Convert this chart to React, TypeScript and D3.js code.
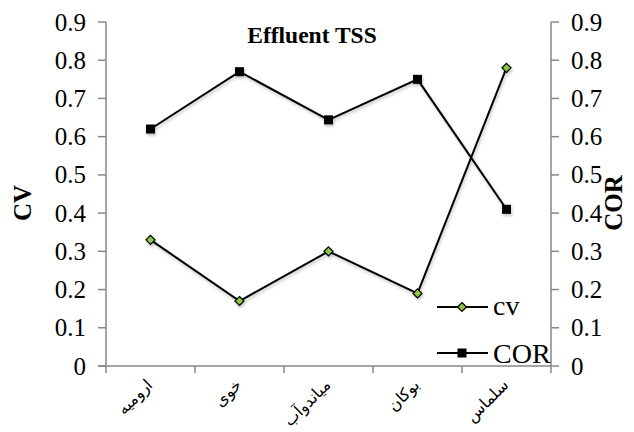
import React from "react";
import * as d3 from "d3";

const categories = ["ارومیه", "خوی", "میاندوآب", "بوکان", "سلماس"];
const cvValues = [0.33, 0.17, 0.3, 0.19, 0.78];
const corValues = [0.62, 0.77, 0.644, 0.75, 0.41];
const yTicks = [0, 0.1, 0.2, 0.3, 0.4, 0.5, 0.6, 0.7, 0.8, 0.9];
const title = "Effluent TSS";
const leftTitle = "CV";
const rightTitle = "COR";
const legendNames = ["cv", "COR"];

const W = 634;
const H = 432;
const left = 106;
const right = 551;
const top = 22;
const bottom = 366;
const axisColor = "#878787";
const serif = "Liberation Serif, Times New Roman, Times, DejaVu Serif, serif";

export default function App() {
  const x = d3.scaleBand<string>().domain(categories).range([left, right]).padding(0);
  const y = d3.scaleLinear().domain([0, 0.9]).range([bottom, top]);
  const cx = (c: string) => (x(c) as number) + x.bandwidth() / 2;
  const line = d3
    .line<number>()
    .x((_, i) => cx(categories[i]))
    .y((d) => y(d));
  const fmt = (v: number) => (v === 0 ? "0" : d3.format(".1f")(v));
  const diamond = (px: number, py: number, r: number) =>
    `M${px},${py - r}L${px + r},${py}L${px},${py + r}L${px - r},${py}Z`;
  const serifStyle = { fontFamily: serif };

  return (
    <svg
      width={W}
      height={H}
      style={{ position: "absolute", left: 0, top: 0, background: "#fff" }}
    >
      <defs>
        <filter id="sh" x="-20%" y="-20%" width="140%" height="140%">
          <feDropShadow dx="1" dy="2" stdDeviation="1.5" floodColor="#000" floodOpacity="0.25" />
        </filter>
      </defs>
      <rect width={W} height={H} fill="#fff" />
      {/* left axis */}
      <line x1={left} x2={left} y1={top} y2={bottom + 7} stroke={axisColor} strokeWidth={1.5} />
      {yTicks.map((t) => (
        <g key={"l" + t}>
          <line x1={left - 8} x2={left} y1={y(t)} y2={y(t)} stroke={axisColor} strokeWidth={1.5} />
          <text
            x={86}
            y={y(t)}
            dy="0.34em"
            textAnchor="end"
            style={serifStyle}
            fontSize={25}
            fill="#000"
          >
            {fmt(t)}
          </text>
        </g>
      ))}
      {/* right axis */}
      <line x1={right} x2={right} y1={top} y2={bottom + 7} stroke={axisColor} strokeWidth={1.5} />
      {yTicks.map((t) => (
        <g key={"r" + t}>
          <line x1={right} x2={right + 8} y1={y(t)} y2={y(t)} stroke={axisColor} strokeWidth={1.5} />
          <text
            x={571}
            y={y(t)}
            dy="0.34em"
            textAnchor="start"
            style={serifStyle}
            fontSize={25}
            fill="#000"
          >
            {fmt(t)}
          </text>
        </g>
      ))}
      {/* x axis */}
      <line x1={left - 8} x2={right} y1={bottom} y2={bottom} stroke={axisColor} strokeWidth={1.5} />
      {categories.slice(0, -1).map((c) => {
        const xx = (x(c) as number) + x.bandwidth();
        return (
          <line key={"t" + c} x1={xx} x2={xx} y1={bottom} y2={bottom + 7} stroke={axisColor} strokeWidth={1.5} />
        );
      })}
      {categories.map((c) => {
        const ax = cx(c) + 3;
        const ay = 386;
        return (
          <text
            key={"c" + c}
            x={ax}
            y={ay}
            textAnchor="end"
            transform={`rotate(-45, ${ax}, ${ay})`}
            style={{ fontFamily: "DejaVu Sans, sans-serif" }}
            fontSize={16}
            fill="#000"
          >
            {c}
          </text>
        );
      })}
      {/* series */}
      <g filter="url(#sh)">
        <path d={line(corValues) || ""} fill="none" stroke="#000" strokeWidth={2} />
        {corValues.map((v, i) => (
          <rect
            key={"cm" + i}
            x={cx(categories[i]) - 4.5}
            y={y(v) - 4.5}
            width={9}
            height={9}
            fill="#000"
          />
        ))}
        <path d={line(cvValues) || ""} fill="none" stroke="#000" strokeWidth={2} />
        {cvValues.map((v, i) => (
          <path
            key={"vm" + i}
            d={diamond(cx(categories[i]), y(v), 4.5)}
            fill="#8DC63F"
            stroke="#000"
            strokeWidth={1.2}
          />
        ))}
      </g>
      {/* title */}
      <text
        x={312}
        y={43}
        textAnchor="middle"
        style={serifStyle}
        fontWeight="bold"
        fontSize={23.5}
        fill="#000"
      >
        {title}
      </text>
      {/* axis titles */}
      <text
        transform={`translate(31, 203) rotate(-90)`}
        textAnchor="middle"
        style={serifStyle}
        fontWeight="bold"
        fontSize={25}
        fill="#000"
      >
        {leftTitle}
      </text>
      <text
        transform={`translate(622, 203) rotate(-90)`}
        textAnchor="middle"
        style={serifStyle}
        fontWeight="bold"
        fontSize={25}
        fill="#000"
      >
        {rightTitle}
      </text>
      {/* legend */}
      <g>
        <line x1={437} x2={488} y1={307} y2={307} stroke="#000" strokeWidth={2} />
        <path d={diamond(462, 307, 4.5)} fill="#8DC63F" stroke="#000" strokeWidth={1.2} />
        <text x={493} y={315} style={serifStyle} fontSize={28} fill="#000">
          {legendNames[0]}
        </text>
        <line x1={437} x2={488} y1={353} y2={353} stroke="#000" strokeWidth={2} />
        <rect x={457.5} y={348.5} width={9} height={9} fill="#000" />
        <text x={493} y={363} style={serifStyle} fontSize={28} fill="#000">
          {legendNames[1]}
        </text>
      </g>
    </svg>
  );
}
